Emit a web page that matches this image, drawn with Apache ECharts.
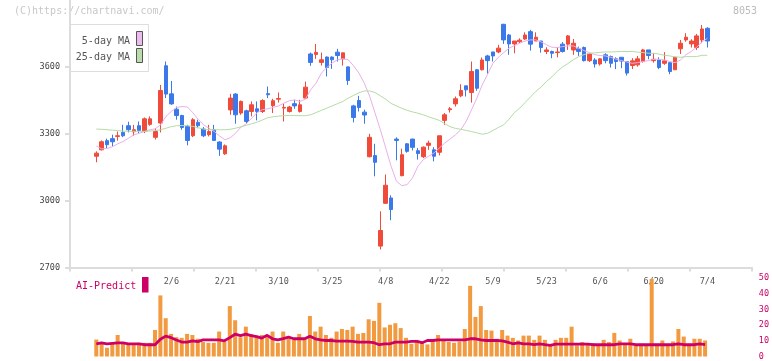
<!DOCTYPE html>
<html><head><meta charset="utf-8">
<script src="https://cdn.jsdelivr.net/npm/echarts@6/dist/echarts.min.js"></script>
<style>html,body{margin:0;padding:0;background:#fff}#c{width:772px;height:361px}</style>
</head><body><div id="c"></div>
<script>
const dates = ['1/17','1/20','1/21','1/22','1/23','1/24','1/27','1/28','1/29','1/30','1/31','2/3','2/4','2/5','2/6','2/7','2/10','2/12','2/13','2/14','2/17','2/18','2/19','2/20','2/21','2/25','2/26','2/27','2/28','3/3','3/4','3/5','3/6','3/7','3/10','3/11','3/12','3/13','3/14','3/17','3/18','3/19','3/21','3/24','3/25','3/26','3/27','3/28','3/31','4/1','4/2','4/3','4/4','4/7','4/8','4/9','4/10','4/11','4/14','4/15','4/16','4/17','4/18','4/21','4/22','4/23','4/24','4/25','4/28','4/30','5/1','5/2','5/7','5/8','5/9','5/12','5/13','5/14','5/15','5/16','5/19','5/20','5/21','5/22','5/23','5/26','5/27','5/28','5/29','5/30','6/2','6/3','6/4','6/5','6/6','6/9','6/10','6/11','6/12','6/13','6/16','6/17','6/18','6/19','6/20','6/23','6/24','6/25','6/26','6/27','6/30','7/1','7/2','7/3','7/4'];
// [open, close, low, high]
const ohlc = [
[3199,3213,3172,3221],[3228,3264,3225,3270],[3269,3251,3233,3278],[3278,3264,3243,3296],[3288,3291,3269,3310],
[3306,3291,3285,3340],[3336,3318,3306,3354],[3309,3318,3291,3340],[3336,3315,3303,3355],[3310,3367,3303,3373],
[3342,3367,3336,3378],[3284,3310,3274,3325],[3348,3494,3306,3519],[3605,3478,3460,3624],[3479,3434,3430,3537],
[3410,3382,3363,3422],[3382,3328,3318,3385],[3333,3270,3248,3340],[3291,3363,3285,3370],[3351,3336,3325,3363],
[3321,3291,3285,3330],[3296,3310,3288,3340],[3318,3270,3268,3340],[3263,3231,3201,3266],[3210,3246,3205,3252],
[3407,3460,3385,3479],[3478,3385,3345,3482],[3393,3445,3385,3449],[3403,3355,3345,3408],[3400,3430,3378,3445],
[3412,3400,3360,3445],[3400,3449,3393,3455],[3480,3475,3460,3512],[3426,3448,3393,3457],[3455,3458,3440,3485],
[3415,3418,3355,3435],[3400,3420,3395,3425],[3435,3425,3412,3452],[3400,3430,3395,3452],[3460,3509,3455,3534],
[3658,3620,3605,3664],[3656,3665,3636,3703],[3620,3632,3606,3664],[3644,3597,3557,3647],[3644,3632,3591,3647],
[3666,3651,3624,3681],[3636,3663,3606,3663],[3600,3539,3519,3602],[3425,3373,3351,3430],[3449,3418,3400,3470],
[3397,3384,3345,3408],[3197,3284,3194,3300],[3202,3172,3109,3255],[2796,2866,2781,2952],[2988,3069,2985,3117],
[3012,2960,2912,3024],[3276,3270,3181,3284],[3112,3206,3109,3233],[3255,3221,3215,3258],[3276,3239,3225,3278],
[3224,3211,3184,3236],[3197,3240,3191,3243],[3248,3258,3228,3269],[3228,3199,3176,3240],[3217,3291,3203,3291],
[3360,3385,3340,3393],[3408,3412,3395,3420],[3434,3457,3422,3467],[3470,3494,3464,3522],[3515,3497,3467,3515],
[3485,3579,3440,3624],[3587,3504,3493,3590],[3587,3631,3584,3642],[3649,3628,3569,3654],[3667,3649,3624,3667],
[3667,3684,3661,3699],[3791,3721,3703,3793],[3743,3703,3654,3748],[3703,3716,3661,3716],[3713,3720,3706,3728],
[3725,3743,3721,3755],[3758,3702,3673,3766],[3716,3733,3716,3755],[3716,3687,3664,3716],[3669,3676,3657,3688],
[3669,3661,3639,3673],[3664,3667,3643,3688],[3702,3669,3664,3711],[3702,3739,3676,3743],[3676,3706,3654,3725],
[3681,3669,3649,3691],[3687,3628,3624,3691],[3628,3658,3622,3661],[3631,3613,3597,3639],[3613,3636,3606,3639],
[3654,3628,3616,3661],[3646,3616,3597,3651],[3636,3624,3590,3643],[3643,3626,3594,3643],[3624,3572,3561,3624],
[3606,3627,3590,3639],[3609,3636,3601,3649],[3624,3676,3619,3681],[3676,3651,3634,3676],[3628,3634,3619,3661],
[3631,3597,3590,3643],[3616,3627,3609,3666],[3619,3579,3567,3619],[3587,3643,3587,3643],[3681,3706,3658,3721],
[3721,3733,3713,3751],[3703,3716,3687,3724],[3687,3739,3676,3748],[3721,3770,3706,3788],[3773,3716,3687,3778]
];
const ma5 = [3245,3232,3234,3242,3255,3265,3280,3295,3302,3310,3318,3322,3340,3378,3400,3418,3422,3420,3395,3365,
3340,3325,3310,3290,3273,3282,3303,3330,3345,3370,3395,3408,3412,3418,3425,3437,3448,3452,3445,3455,
3497,3527,3572,3597,3617,3632,3636,3632,3605,3572,3527,3468,3393,3318,3236,3154,3087,3067,3072,3102,
3154,3184,3199,3214,3236,3258,3276,3295,3318,3355,3407,3460,3519,3567,3616,3643,3664,3684,3695,3706,
3716,3721,3721,3712,3699,3688,3687,3691,3694,3694,3684,3673,3664,3655,3651,3649,3643,3634,3628,3622,
3616,3619,3624,3628,3634,3634,3631,3624,3619,3631,3654,3669,3688,3712,3728];
const ma25 = [3321,3320,3318,3316,3314,3312,3311,3311,3311,3311,3312,3314,3318,3325,3332,3336,3337,3336,3333,3327,
3321,3318,3318,3318,3318,3320,3325,3331,3338,3345,3352,3362,3372,3376,3379,3381,3382,3382,3381,3381,
3385,3395,3405,3415,3425,3435,3445,3460,3472,3484,3492,3492,3485,3470,3455,3436,3425,3414,3405,3398,
3392,3385,3376,3368,3360,3345,3332,3324,3320,3315,3310,3304,3298,3302,3315,3328,3340,3365,3395,3415,
3440,3465,3490,3510,3535,3555,3580,3600,3615,3632,3646,3655,3661,3663,3665,3667,3667,3668,3669,3669,
3669,3666,3664,3661,3661,3657,3652,3649,3645,3643,3646,3646,3646,3652,3652];
const volume = [10.8,8.7,5.6,8.1,13.7,9.2,7.5,7.5,8.7,8.7,8.7,16.9,38.9,24.4,14.4,12.3,11.9,14.4,13.7,11.3,
9.2,8.7,8.7,15.9,9.2,32.1,23.1,12.3,19.0,14.4,13.3,13.7,13.3,15.9,8.7,15.9,11.3,10.8,14.4,11.3,
25.8,15.9,19.0,13.7,11.9,15.9,17.5,16.9,19.0,14.4,15.0,23.7,22.7,34.2,18.5,20.2,21.2,18.1,11.9,8.1,
10.6,8.7,7.7,10.6,13.7,10.2,9.2,8.7,9.6,17.5,45.0,25.2,32.1,16.9,16.5,11.3,16.9,13.3,11.9,10.2,
13.3,13.3,10.6,13.3,10.6,7.5,10.6,11.9,11.9,19.0,7.1,9.2,8.5,8.5,7.5,10.6,9.2,15.0,10.2,7.5,
11.3,7.1,8.1,7.5,49.4,8.1,10.2,8.1,9.6,17.5,12.7,8.1,11.3,11.3,10.2];
const aiPredict = [8.1,8.7,8.1,8.4,8.7,8.7,8.1,8.1,8.1,7.5,7.5,7.5,11.0,13.0,12.0,10.5,9.2,9.2,10.0,9.5,
10.6,10.6,10.6,10.6,10.0,12.0,14.2,13.3,14.2,13.3,12.7,11.7,13.5,11.3,10.6,11.4,12.3,11.3,11.3,11.3,
12.9,11.3,10.6,10.2,10.2,9.8,9.8,9.8,9.6,9.2,9.2,9.2,8.8,7.5,8.1,8.1,9.2,9.2,9.2,9.6,
9.6,8.8,10.2,10.2,10.6,10.6,10.6,10.6,10.6,10.6,11.3,11.3,10.6,10.2,10.2,10.2,10.0,9.2,8.1,8.7,
8.1,8.1,7.5,8.1,7.5,7.1,7.9,7.9,7.9,7.9,7.9,7.9,7.9,7.5,7.5,7.5,7.5,7.5,8.1,8.1,
8.1,7.5,7.5,7.5,7.5,7.5,7.5,7.5,7.5,8.1,7.5,7.5,7.5,8.1,7.5];
const priceTicks = {min: 2700, max: 3900, step: 300};
const volTicks = {min: 0, max: 50, step: 10};
const labelEvery = 10, firstLabel = 14;

const mono = '"DejaVu Sans Mono", "Liberation Mono", monospace';
const UP = '#f04b3a', DOWN = '#3b79ea';
const chart = echarts.init(document.getElementById('c'), null, {renderer: 'canvas'});
const gL = 93.62, gR = 61.98, gTop = -1, gH = 268.5;
chart.setOption({
  animation: false,
  backgroundColor: '#fff',
  grid: [
    {left: 70, right: 20, top: gTop, height: gH},
    {left: gL, right: gR, top: gTop, height: gH},
    {left: gL, right: gR, top: 278, bottom: 3}
  ],
  xAxis: [
    {gridIndex: 0, type: 'value', min: 0, max: 11, interval: 1,
     axisLine: {show: true, lineStyle: {color: '#dcdcdc', width: 2}},
     axisTick: {show: true, length: 4, lineStyle: {color: '#dcdcdc', width: 2}},
     axisLabel: {show: false}, splitLine: {show: false}},
    {gridIndex: 1, type: 'category', data: dates, boundaryGap: true,
     axisLine: {show: false}, axisTick: {show: false}, splitLine: {show: false},
     axisLabel: {interval: (i) => i >= firstLabel && (i - firstLabel) % labelEvery === 0,
       margin: 10, fontSize: 8.5, color: '#555', fontFamily: mono}},
    {gridIndex: 2, type: 'category', data: dates, boundaryGap: true, show: false}
  ],
  yAxis: [
    {gridIndex: 0, type: 'value', min: priceTicks.min, max: priceTicks.max, interval: priceTicks.step,
     axisLine: {show: true, lineStyle: {color: '#dcdcdc', width: 2}},
     axisTick: {show: true, length: 5, lineStyle: {color: '#dcdcdc', width: 2}},
     axisLabel: {showMaxLabel: false, margin: 10, fontSize: 8.5, color: '#444', fontFamily: mono,
       formatter: (v) => String(v)},
     splitLine: {show: false}},
    {gridIndex: 1, type: 'value', min: priceTicks.min, max: priceTicks.max, show: false},
    {gridIndex: 2, type: 'value', min: volTicks.min, max: volTicks.max, interval: volTicks.step,
     position: 'right', offset: 42,
     axisLine: {show: false}, axisTick: {show: false}, splitLine: {show: false},
     axisLabel: {margin: 9, fontSize: 8.5, color: '#cc0066', fontFamily: mono}}
  ],
  series: [
    {type: 'candlestick', xAxisIndex: 1, yAxisIndex: 1, data: ohlc, barWidth: 4,
     itemStyle: {color: UP, color0: DOWN, borderColor: UP, borderColor0: DOWN, borderWidth: 1}},
    {type: 'line', xAxisIndex: 1, yAxisIndex: 1, data: ma5, symbol: 'none',
     lineStyle: {color: '#e9b0e9', width: 1}},
    {type: 'line', xAxisIndex: 1, yAxisIndex: 1, data: ma25, symbol: 'none',
     lineStyle: {color: '#b5dca5', width: 1}},
    {type: 'bar', xAxisIndex: 2, yAxisIndex: 2, data: volume, barWidth: 4,
     itemStyle: {color: '#f29a40'}},
    {type: 'line', xAxisIndex: 2, yAxisIndex: 2, data: aiPredict, symbol: 'none',
     lineStyle: {color: '#cc0066', width: 2.8}}
  ],
  graphic: [
    {type: 'text', left: 14, top: 6, style: {text: '(C)https://chartnavi.com/', fill: '#c8c8c8', font: '10px ' + mono}},
    {type: 'text', left: 733, top: 6, style: {text: '8053', fill: '#bbbbbb', font: '10px ' + mono}},
    {type: 'rect', shape: {x: 70.5, y: 24.5, width: 78, height: 47}, style: {fill: '#fff', stroke: '#dddddd', lineWidth: 1}, z: 100},
    {type: 'text', x: 130, y: 41, style: {text: '5-day MA', fill: '#555', font: '10px ' + mono, textAlign: 'right', textVerticalAlign: 'middle'}, z: 101},
    {type: 'text', x: 130, y: 57, style: {text: '25-day MA', fill: '#555', font: '10px ' + mono, textAlign: 'right', textVerticalAlign: 'middle'}, z: 101},
    {type: 'rect', shape: {x: 136.5, y: 31.5, width: 6, height: 14}, style: {fill: '#eebbee', stroke: '#555', lineWidth: 1}, z: 101},
    {type: 'rect', shape: {x: 136.5, y: 48.5, width: 6, height: 14}, style: {fill: '#bbddaa', stroke: '#555', lineWidth: 1}, z: 101},
    {type: 'text', x: 76, y: 286, style: {text: 'AI-Predict', fill: '#cc0066', font: '10px ' + mono, textVerticalAlign: 'middle'}},
    {type: 'rect', shape: {x: 142, y: 277, width: 6.5, height: 15.5}, style: {fill: '#cc0066'}}
  ]
});
</script></body></html>
